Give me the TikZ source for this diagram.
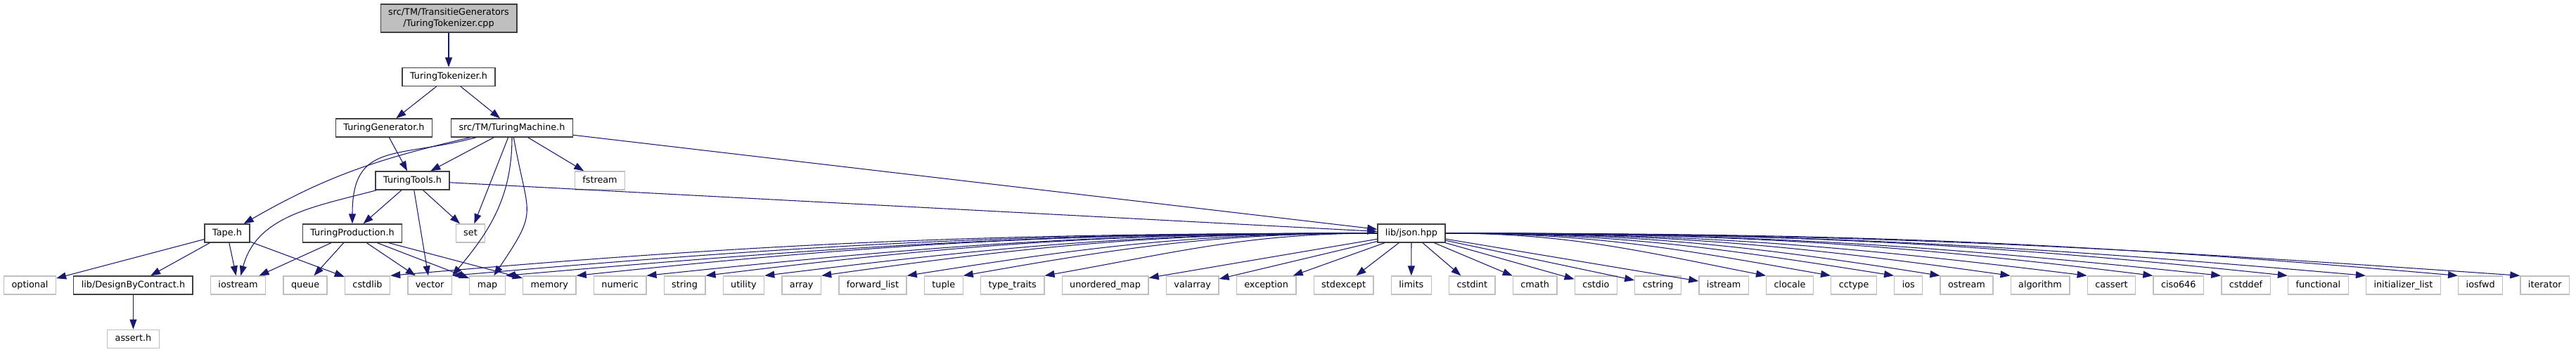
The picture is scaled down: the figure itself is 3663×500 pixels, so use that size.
\documentclass[tikz,border=0pt]{standalone}
\usepackage{fontspec}
\setmainfont{DejaVu Sans}
\usepackage{xcolor}
\usepackage{tikz}
\usetikzlibrary{arrows.meta,positioning}
\definecolor{edgeblue}{HTML}{191970}
\definecolor{dkgray}{HTML}{404040}
\definecolor{ltgray}{HTML}{BFBFBF}

\begin{document}
\begin{tikzpicture}[
  x=0.75pt, y=-0.75pt,
  node distance=36.75pt and 18pt,
  font=\fontsize{9.6pt}{12pt}\selectfont,
  box/.style={draw=dkgray,fill=white,line width=1pt,inner xsep=8.25pt,
              minimum height=19.5pt,text height=7.3pt,text depth=2.3pt},
  ext/.style={box,draw=ltgray},
  src/.style={draw=dkgray,fill=ltgray,line width=1pt,inner xsep=8.25pt,
              minimum height=30pt,align=center},
  arr/.style={-{Triangle[length=10.5pt,width=7.5pt]},draw=edgeblue,line width=0.8pt}
]
\useasboundingbox (0,0) rectangle (3663,500);
% project headers
\node[src] (cpp) at (638,26) {src/TM/TransitieGenerators\\/TuringTokenizer.cpp};
\node[box,below=of cpp] (tok) {TuringTokenizer.h};
\node[box] (gen) at (546,182) {TuringGenerator.h};
\node[box] (tm) at (728,182) {src/TM/TuringMachine.h};
\node[box] (tools) at (586.5,257) {TuringTools.h};
\node[ext] (fstream) at (853,257) {fstream};
\node[box] (tape) at (323,332) {Tape.h};
\node[box] (prod) at (501,332) {TuringProduction.h};
\node[ext] (set) at (669,332) {set};
\node[box] (json) at (2007,332) {lib/json.hpp};
% bottom row
\node[ext] (optional) at (42.5,406) {optional};
\node[box,right=of optional] (dbc) {lib/DesignByContract.h};
\node[ext,right=of dbc] (iostream) {iostream};
\node[ext,right=of iostream] (queue) {queue};
\node[ext,right=of queue] (cstdlib) {cstdlib};
\node[ext,right=of cstdlib] (vector) {vector};
\node[ext,right=of vector] (map) {map};
\node[ext,right=of map] (memory) {memory};
\node[ext,right=of memory] (numeric) {numeric};
\node[ext,right=of numeric] (string) {string};
\node[ext,right=of string] (utility) {utility};
\node[ext,right=of utility] (array) {array};
\node[ext,right=of array] (fwdlist) {forward\_list};
\node[ext,right=of fwdlist] (tuple) {tuple};
\node[ext,right=of tuple] (traits) {type\_traits};
\node[ext,right=of traits] (umap) {unordered\_map};
\node[ext,right=of umap] (valarray) {valarray};
\node[ext,right=of valarray] (exception) {exception};
\node[ext,right=of exception] (stdexcept) {stdexcept};
\node[ext,right=of stdexcept] (limits) {limits};
\node[ext,right=of limits] (cstdint) {cstdint};
\node[ext,right=of cstdint] (cmath) {cmath};
\node[ext,right=of cmath] (cstdio) {cstdio};
\node[ext,right=of cstdio] (cstring) {cstring};
\node[ext,right=of cstring] (istream) {istream};
\node[ext,right=of istream] (clocale) {clocale};
\node[ext,right=of clocale] (cctype) {cctype};
\node[ext,right=of cctype] (ios) {ios};
\node[ext,right=of ios] (ostream) {ostream};
\node[ext,right=of ostream] (algorithm) {algorithm};
\node[ext,right=of algorithm] (cassert) {cassert};
\node[ext,right=of cassert] (ciso) {ciso646};
\node[ext,right=of ciso] (cstddef) {cstddef};
\node[ext,right=of cstddef] (functional) {functional};
\node[ext,right=of functional] (initlist) {initializer\_list};
\node[ext,right=of initlist] (iosfwd) {iosfwd};
\node[ext,right=of iosfwd] (iterator) {iterator};
\node[ext,below=of dbc] (assert) {assert.h};
% includes
\draw[arr] (cpp)--(tok); \draw[arr] (tok)--(gen); \draw[arr] (tok)--(tm);
\draw[arr] (gen)--(tools);
\draw[arr] (tm) to[out=193,in=30] (tape);
\draw[arr] (tm) to[out=195,in=90,looseness=1.4] (prod);
\draw[arr] (tm)--(tools); \draw[arr] (tm)--(set);
\draw[arr] (tm) to[out=-90,in=50] (vector.north east);
\draw[arr] (tm) to[out=-80,in=56,looseness=1.5] (map);
\draw[arr] (tm)--(fstream); \draw[arr] (tm)--(json);
\draw[arr] (tools) to[out=195,in=75] (iostream);
\draw[arr] (tools)--(prod); \draw[arr] (tools)--(vector); \draw[arr] (tools)--(set);
\draw[arr] (tools)--(json);
\draw[arr] (tape)--(optional); \draw[arr] (tape)--(dbc); \draw[arr] (tape)--(iostream);
\draw[arr] (tape)--(cstdlib);
\draw[arr] (prod)--(iostream); \draw[arr] (prod)--(queue); \draw[arr] (prod)--(vector);
\draw[arr] (prod)--(map); \draw[arr] (prod)--(memory);
\draw[arr] (dbc)--(assert);
% json.hpp, long edges to the left
\draw[arr] (json.west) .. controls +(180:410pt) and +(5:410pt) .. (cstdlib.north east);
\draw[arr] (json.west) .. controls +(180:385pt) and +(5:385pt) .. (vector.north east);
\draw[arr] (json.west) .. controls +(180:363pt) and +(5:363pt) .. (map.north east);
\draw[arr] (json.west) .. controls +(180:333pt) and +(6:333pt) .. (memory.north east);
\draw[arr] (json.west) .. controls +(180:305pt) and +(6:305pt) .. (numeric.north east);
\draw[arr] (json.west) .. controls +(180:280pt) and +(7:280pt) .. (string.north east);
\draw[arr] (json.west) .. controls +(180:255pt) and +(7:255pt) .. (utility.north east);
\draw[arr] (json.west) .. controls +(180:232pt) and +(8:232pt) .. (array.north east);
\draw[arr] (json.west) .. controls +(180:196pt) and +(9:196pt) .. (fwdlist.north east);
\draw[arr] (json.west) .. controls +(180:173pt) and +(10:173pt) .. (tuple.north east);
\draw[arr] (json.west) .. controls +(180:139pt) and +(10:139pt) .. (traits.north east);
% json.hpp, short edges
\draw[arr] (json)--(umap); \draw[arr] (json)--(valarray); \draw[arr] (json)--(exception);
\draw[arr] (json)--(stdexcept); \draw[arr] (json)--(limits); \draw[arr] (json)--(cstdint);
\draw[arr] (json)--(cmath); \draw[arr] (json)--(cstdio); \draw[arr] (json)--(cstring);
\draw[arr] (json)--(istream);
% json.hpp, long edges to the right
\draw[arr] (json.east) .. controls +(0:133pt) and +(169:133pt) .. (clocale.north west);
\draw[arr] (json.east) .. controls +(0:160pt) and +(170:160pt) .. (cctype.north west);
\draw[arr] (json.east) .. controls +(0:186pt) and +(171:186pt) .. (ios.north west);
\draw[arr] (json.east) .. controls +(0:205pt) and +(171:205pt) .. (ostream.north west);
\draw[arr] (json.east) .. controls +(0:235pt) and +(172:235pt) .. (algorithm.north west);
\draw[arr] (json.east) .. controls +(0:267pt) and +(173:267pt) .. (cassert.north west);
\draw[arr] (json.east) .. controls +(0:294pt) and +(173:294pt) .. (ciso.north west);
\draw[arr] (json.east) .. controls +(0:322pt) and +(174:322pt) .. (cstddef.north west);
\draw[arr] (json.east) .. controls +(0:350pt) and +(174:350pt) .. (functional.north west);
\draw[arr] (json.east) .. controls +(0:382pt) and +(175:382pt) .. (initlist.north west);
\draw[arr] (json.east) .. controls +(0:422pt) and +(175:422pt) .. (iosfwd.north west);
\draw[arr] (json.east) .. controls +(0:448pt) and +(176:448pt) .. (iterator.north west);
\end{tikzpicture}
\end{document}
